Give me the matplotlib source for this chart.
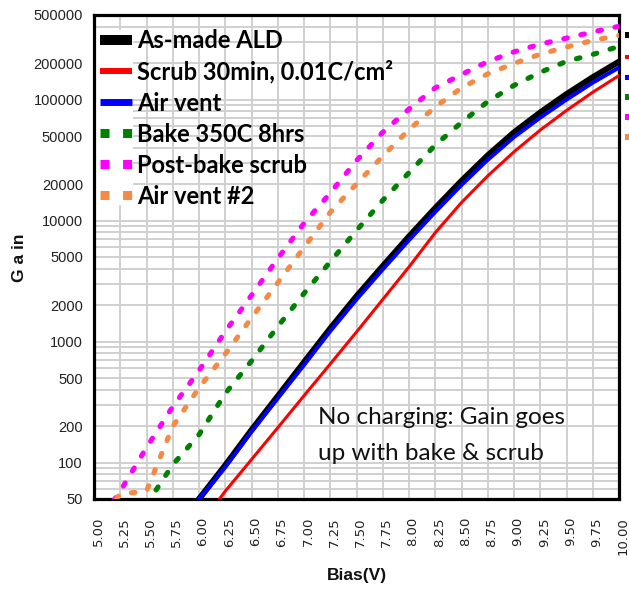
import numpy as np
import matplotlib
matplotlib.use("Agg")
import matplotlib.pyplot as plt
from matplotlib.lines import Line2D
from matplotlib.patches import Rectangle
from matplotlib.transforms import ScaledTranslation

nan = np.nan

# ---- data ----
BIAS = [5.00, 5.25, 5.50, 5.75, 6.00, 6.25, 6.50, 6.75, 7.00, 7.25, 7.50,
        7.75, 8.00, 8.25, 8.50, 8.75, 9.00, 9.25, 9.50, 9.75, 10.00]

AS_MADE = [nan, nan, nan, nan, 50, 95, 186, 354, 675, 1285, 2370, 4210, 7400,
           12700, 21300, 34600, 53600, 78300, 111000, 153000, 206000]
SCRUB = [nan, nan, nan, nan, 30, 58, 106, 194, 357, 653, 1200, 2230, 4140,
         7940, 14100, 23400, 37000, 56000, 81300, 115000, 158000]
AIR_VENT = [nan, nan, nan, nan, 50, 92, 180, 340, 640, 1220, 2230, 3950, 6900,
            11800, 19700, 31800, 49000, 71000, 100000, 138000, 184000]
BAKE = [nan, nan, 45, 96, 170, 372, 691, 1330, 2500, 4570, 8280, 14700, 24900,
        42100, 64700, 96200, 131000, 168000, 207000, 236000, 275000]
POST_BAKE = [28, 58, 133, 290, 575, 1210, 2410, 4850, 9500, 16900, 31300, 53700,
             83600, 125000, 161000, 206000, 248000, 287000, 322000, 362000, 403000]
AIR_VENT2 = [30, 55, 58, 199, 414, 789, 1570, 3060, 6000, 11700, 20100, 34100,
             56500, 86900, 125000, 163000, 199000, 237000, 272000, 308000, 339000]

LABELS = ["As-made ALD", "Scrub 30min, 0.01C/cm\u00b2", "Air vent",
          "Bake 350C 8hrs", "Post-bake scrub", "Air vent #2"]
YTICKS = [50, 100, 200, 500, 1000, 2000, 5000, 10000, 20000, 50000,
          100000, 200000, 500000]
XTICK_LABELS = ["%.2f" % b for b in BIAS]

C_BLACK, C_RED, C_BLUE = "#000000", "#ff0000", "#0000ff"
C_GREEN, C_MAG, C_ORANGE = "#008000", "#ff00ff", "#f58a45"

W, H = 629, 589
fig = plt.figure(figsize=(W / 100, H / 100), dpi=100)
L, R, T, B = 94, 619, 15, 499
ax = fig.add_axes([L / W, 1 - B / H, (R - L) / W, (B - T) / H])
ax.set_yscale("log")
ax.set_xlim(5, 10)
ax.set_ylim(50, 500000)
ax.set_axisbelow(True)

# grid
ax.set_xticks(BIAS)
ax.set_xticklabels(XTICK_LABELS)
ax.set_yticks(YTICKS)
ax.set_yticklabels([str(v) for v in YTICKS])
minor = [k * 10 ** e for e in range(1, 6) for k in range(1, 10)
         if 50 <= k * 10 ** e <= 500000]
ax.set_yticks(minor, minor=True)
ax.yaxis.set_minor_formatter(matplotlib.ticker.NullFormatter())
ax.grid(True, which="both", color="#d0d0d0", lw=1.4)
ax.tick_params(which="both", length=0)

sans = ["Liberation Sans", "DejaVu Sans"]
for lab in ax.get_yticklabels():
    lab.set_fontfamily(sans)
    lab.set_fontsize(10.5)
    lab.set_color("#222222")
ax.tick_params(axis="y", pad=8)
ax.tick_params(axis="x", pad=13)
off = ScaledTranslation(4 / 100, 0, fig.dpi_scale_trans)
for lab in ax.get_xticklabels():
    lab.set_rotation(90)
    lab.set_fontsize(9.5)
    lab.set_color("#222222")
    lab.set_transform(lab.get_transform() + off)

for s in ax.spines.values():
    s.set_color("black")
    s.set_linewidth(2.3)

# white area behind legend handles
ax.add_patch(Rectangle((0, (B - 205) / (B - T)), (133 - L) / (R - L),
                       (205 - 30) / (B - T), transform=ax.transAxes,
                       facecolor="white", edgecolor="none", zorder=1.5))

# curves
dot = (0, (0.7, 2.7))
ax.plot(BIAS, AS_MADE, color=C_BLACK, lw=4.3, zorder=3)
ax.plot(BIAS, SCRUB, color=C_RED, lw=2.2, zorder=3)
ax.plot(BIAS, AIR_VENT, color=C_BLUE, lw=2.9, zorder=3)
ax.plot(BIAS, BAKE, color=C_GREEN, lw=3.7, ls=dot, dash_capstyle="round", zorder=3)
ax.plot(BIAS, POST_BAKE, color=C_MAG, lw=3.7, ls=dot, dash_capstyle="round", zorder=3)
ax.plot(BIAS, AIR_VENT2, color=C_ORANGE, lw=3.7, ls=dot, dash_capstyle="round", zorder=3)

sq = (0, (1.0, 1.5))
handles = [
    Line2D([], [], color=C_BLACK, lw=7.2, solid_capstyle="butt"),
    Line2D([], [], color=C_RED, lw=4.3, solid_capstyle="butt"),
    Line2D([], [], color=C_BLUE, lw=5.0, solid_capstyle="butt"),
    Line2D([], [], color=C_GREEN, lw=6.5, ls=sq, dash_capstyle="butt"),
    Line2D([], [], color=C_MAG, lw=6.5, ls=sq, dash_capstyle="butt"),
    Line2D([], [], color=C_ORANGE, lw=6.5, ls=sq, dash_capstyle="butt"),
]
leg = ax.legend(handles, LABELS, loc="upper left",
                bbox_to_anchor=(100 / W, 1 - 29 / H), bbox_transform=fig.transFigure,
                frameon=False, borderpad=0, borderaxespad=0, handlelength=1.36,
                handletextpad=0.21, labelspacing=0.34,
                prop={"family": ["Lato", "DejaVu Sans"], "weight": "bold", "size": 17})
leg.set_zorder(5)

# annotation
fig.text(318 / W, 1 - 418 / H, "No charging: Gain goes", ha="left", va="center",
         family=["Lato", "DejaVu Sans"], fontsize=17.5, color="#111111")
fig.text(318 / W, 1 - 453 / H, "up with bake & scrub", ha="left", va="center",
         family=["Lato", "DejaVu Sans"], fontsize=17.5, color="#111111")

# axis titles
fig.text(20 / W, 1 - 258 / H, "G a in", rotation=90, ha="center", va="center",
         family=sans, fontweight="bold", fontsize=12.5, color="#111111")
fig.text(357 / W, 1 - 568 / H, "Bias(V)", ha="center", va="top",
         family=sans, fontweight="bold", fontsize=12.5, color="#111111")

# clipped remnants of a second legend at the right edge
for yc, c, h in [(35, C_BLACK, 6), (57, C_RED, 4), (77, C_BLUE, 5),
                 (97, C_GREEN, 6), (117, C_MAG, 6), (137, C_ORANGE, 6)]:
    fig.add_artist(Rectangle((625 / W, 1 - (yc + h / 2) / H), 5 / W, h / H,
                             transform=fig.transFigure, facecolor=c,
                             edgecolor="none"))

fig.savefig("out.png", dpi=100)
